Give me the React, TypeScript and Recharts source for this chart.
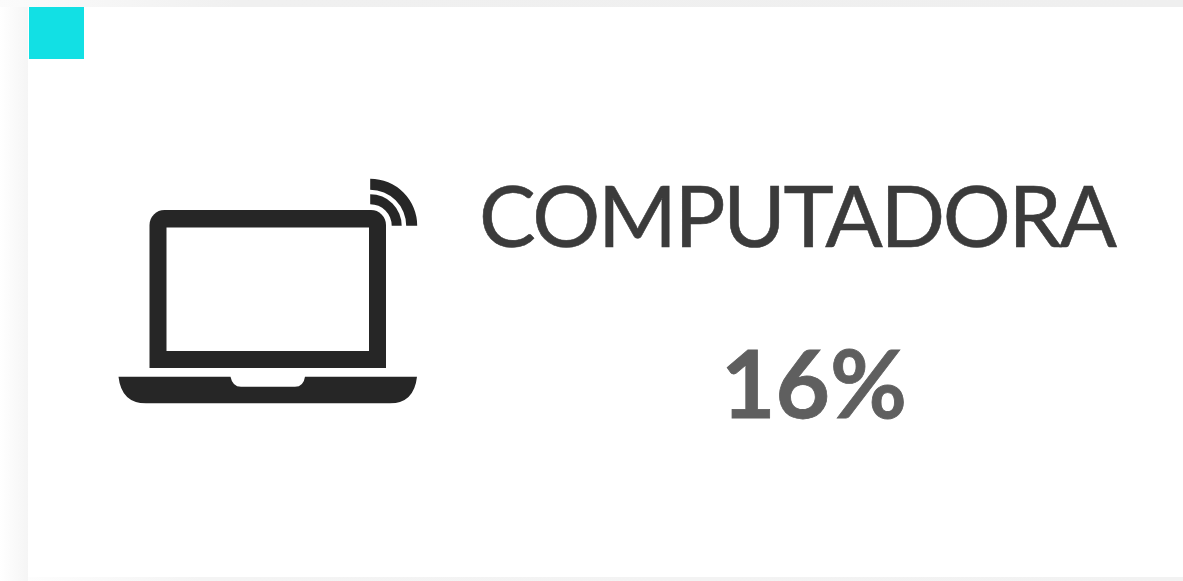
import { BarChart, Rectangle, Sector, Text } from 'recharts';

const categories = ['COMPUTADORA'];
const values = [16];
const rows = categories.map((category, i) => ({ category, value: values[i] }));

const WIDTH = 1183;
const HEIGHT = 581;
const wifiBands = [
  { inner: 21.5, outer: 31.5 },
  { inner: 36, outer: 47 },
];

function LaptopIcon() {
  return (
    <g fill="#262626">
      <Rectangle x={149.5} y={210} width={236.5} height={158} radius={[15, 15, 0, 0]} fill="#262626" />
      <Rectangle x={166.5} y={227.5} width={202.5} height={123.5} fill="#ffffff" />
      <path d="M118.5 376.7 H230.5 Q232.5 386.7 241 386.7 H295 Q303.5 386.7 305 376.7 H417 Q414 403.3 390 403.3 H146 Q121.5 403.3 118.5 376.7 Z" />
      {wifiBands.map((band) => (
        <Sector
          key={band.outer}
          cx={370.2}
          cy={225.7}
          innerRadius={band.inner}
          outerRadius={band.outer}
          startAngle={0}
          endAngle={90}
          fill="#262626"
        />
      ))}
    </g>
  );
}

export default function App() {
  return (
    <div style={{ position: 'absolute', left: 0, top: 0, width: WIDTH, height: HEIGHT }}>
      <BarChart
        width={WIDTH}
        height={HEIGHT}
        data={rows}
        margin={{ top: 0, right: 0, bottom: 0, left: 0 }}
      >
        <defs>
          <linearGradient id="leftShade" x1="0" y1="0" x2="1" y2="0">
            <stop offset="0%" stopColor="#ffffff" />
            <stop offset="100%" stopColor="#f5f5f5" />
          </linearGradient>
          <linearGradient id="topShade" x1="0" y1="0" x2="1" y2="0">
            <stop offset="0%" stopColor="#fbfbfb" />
            <stop offset="20%" stopColor="#f0f0f0" />
            <stop offset="100%" stopColor="#efefef" />
          </linearGradient>
          <linearGradient id="bottomShade" x1="0" y1="0" x2="1" y2="0">
            <stop offset="0%" stopColor="#fdfdfd" />
            <stop offset="15%" stopColor="#f4f4f4" />
            <stop offset="100%" stopColor="#f2f2f2" />
          </linearGradient>
        </defs>
        <Rectangle x={0} y={0} width={WIDTH} height={HEIGHT} fill="#ffffff" />
        <Rectangle x={0} y={0} width={28} height={HEIGHT} fill="url(#leftShade)" />
        <Rectangle x={0} y={0} width={WIDTH} height={7} fill="url(#topShade)" />
        <Rectangle x={28} y={577} width={WIDTH - 28} height={4} fill="url(#bottomShade)" />
        <Rectangle x={29} y={7} width={55} height={52} fill="#12e0e4" />
        <LaptopIcon />
        <Text
          x={798}
          y={247}
          textAnchor="middle"
          fontFamily="Lato"
          fontSize={85}
          fill="#3b3b3b"
          stroke="#3b3b3b"
          strokeWidth={0.6}
          textLength={638}
          lengthAdjust="spacing"
        >
          {rows[0].category}
        </Text>
        <Text
          x={814}
          y={418}
          textAnchor="middle"
          fontFamily="Lato"
          fontWeight={700}
          fontSize={94}
          fill="#5f5f5f"
          stroke="#5f5f5f"
          strokeWidth={0.8}
        >
          {`${rows[0].value}%`}
        </Text>
      </BarChart>
    </div>
  );
}
